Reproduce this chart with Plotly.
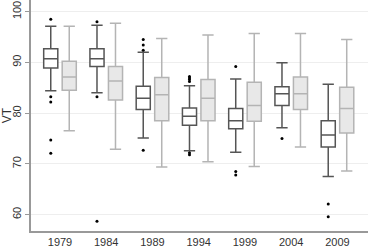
import plotly.graph_objects as go

years = ["1979", "1984", "1989", "1994", "1999", "2004", "2009"]

# Group A (white boxes)
a_low = [84.4, 84.0, 75.1, 72.6, 72.3, 77.1, 67.5]
a_q1 = [88.9, 89.2, 80.7, 77.6, 76.9, 81.5, 73.3]
a_med = [90.7, 90.7, 82.9, 79.4, 78.5, 83.8, 75.7]
a_q3 = [92.7, 92.7, 85.3, 81.0, 80.9, 85.2, 78.5]
a_up = [97.1, 97.3, 92.0, 85.4, 86.7, 89.9, 85.7]
a_out = [
    [98.5, 83.2, 82.2, 74.7, 72.1],
    [98.0, 83.2, 58.7],
    [94.5, 93.4, 92.4, 72.7],
    [87.2, 86.9, 86.6, 86.2, 72.2, 71.8],
    [89.2, 68.5, 67.8],
    [75.0],
    [62.1, 59.6],
]

# Group B (gray boxes)
b_low = [76.5, 72.9, 69.4, 70.4, 69.5, 73.3, 68.6]
b_q1 = [84.5, 82.6, 78.5, 78.5, 78.4, 80.7, 76.1]
b_med = [87.1, 86.3, 83.6, 82.9, 81.5, 83.8, 80.9]
b_q3 = [90.2, 89.2, 87.0, 86.6, 86.1, 87.1, 85.1]
b_up = [97.1, 97.7, 94.7, 95.4, 95.7, 95.7, 94.5]

y_ticks = [60, 70, 80, 90, 100]

OFF = 0.2
BW = 0.305
pos_a = [i - OFF for i in range(len(years))]
pos_b = [i + OFF for i in range(len(years))]

fig = go.Figure()
fig.add_trace(go.Box(
    x=pos_a, q1=a_q1, median=a_med, q3=a_q3, lowerfence=a_low, upperfence=a_up,
    width=BW, whiskerwidth=0.8, boxpoints=False,
    fillcolor="white", line=dict(color="#555555", width=1.5), showlegend=False,
))
fig.add_trace(go.Box(
    x=pos_b, q1=b_q1, median=b_med, q3=b_q3, lowerfence=b_low, upperfence=b_up,
    width=BW, whiskerwidth=0.8, boxpoints=False,
    fillcolor="#e8e8e8", line=dict(color="#b4b4b4", width=1.5), showlegend=False,
))
ox, oy = [], []
for p, outs in zip(pos_a, a_out):
    for v in outs:
        ox.append(p)
        oy.append(v)
fig.add_trace(go.Scatter(
    x=ox, y=oy, mode="markers", marker=dict(color="black", size=3),
    showlegend=False, hoverinfo="y",
))

fig.update_layout(
    width=368, height=248,
    margin=dict(l=28, r=0, t=0, b=14),
    paper_bgcolor="white", plot_bgcolor="white",
    font=dict(family="Liberation Sans, Arial, sans-serif", size=11, color="#333333"),
    boxmode="overlay",
)
fig.update_xaxes(
    range=[-0.627, 6.66], tickmode="array",
    tickvals=list(range(len(years))), ticktext=years,
    showgrid=False, zeroline=False,
    showline=True, linecolor="#999999", linewidth=1.5,
    ticks="", ticklen=0,
)
fig.update_yaxes(
    range=[56.77, 102.28], tickvals=y_ticks, tickangle=-90,
    showgrid=True, gridcolor="#eeeeee", gridwidth=1, zeroline=False,
    showline=True, linecolor="#999999", linewidth=1.5,
    ticks="outside", ticklen=4, tickcolor="#999999",
    title=dict(text="VT", font=dict(size=12), standoff=2),
)

fig.write_html(
    "out.html",
    config={"displayModeBar": False},
    post_script="document.body.style.margin='0';document.body.style.overflow='hidden';",
)
